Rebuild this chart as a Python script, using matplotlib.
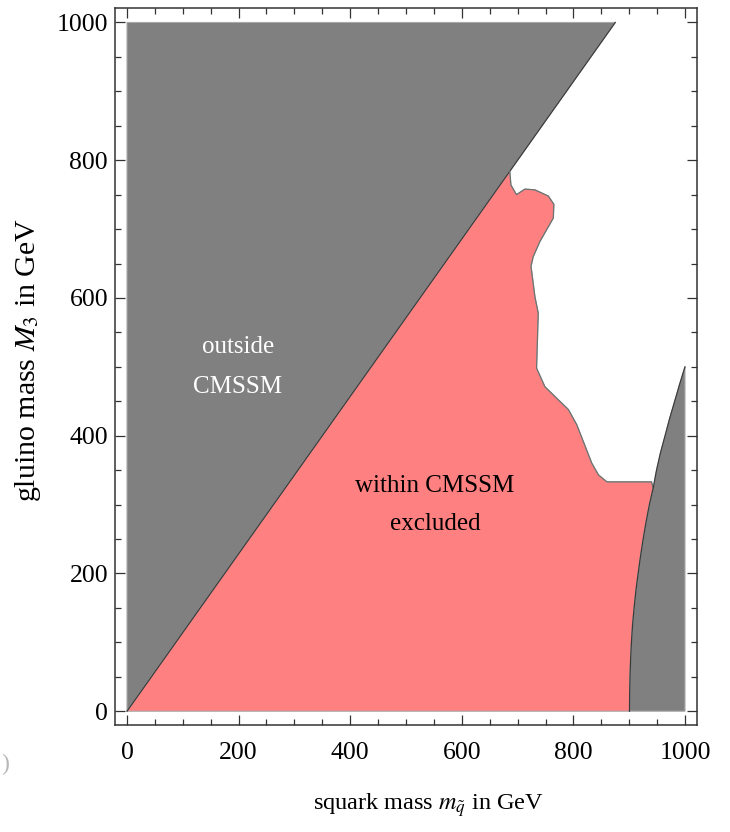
import numpy as np
import matplotlib
matplotlib.use("Agg")
import matplotlib.pyplot as plt
from matplotlib.patches import Polygon
from matplotlib.ticker import MultipleLocator

# ---- data (GeV) ----
# boundary of the "outside CMSSM" wedge
diag_squark = [0, 875]
diag_gluino = [0, 1000]

# upper boundary of the excluded region (from the diagonal going down/right)
edge_squark = [686, 688, 698, 713, 731, 755, 765, 764, 740, 728, 724, 731, 737,
               734, 749, 791, 806, 833, 845, 860, 940, 943]
edge_gluino = [784, 764, 750, 758, 757, 748, 736, 716, 682, 660, 646, 602, 578,
               498, 471, 438, 416, 360, 343, 333, 333, 324]

# boundary of the right-hand gray region
curve_gluino = [0, 25, 50, 75, 100, 125, 150, 175, 200, 225, 250, 275, 300, 324,
                350, 375, 400, 425, 450, 475, 500]
curve_squark = [900.5, 900.8, 901.5, 902.5, 904, 906, 908.8, 912, 916, 920.3, 925,
                930.3, 936.2, 943, 949, 956, 964.3, 972.5, 981.5, 990.5, 1000]

xticks = [0, 200, 400, 600, 800, 1000]
yticks = [0, 200, 400, 600, 800, 1000]

GRAY = "#808080"
RED = "#FF8080"

plt.rcParams["font.family"] = ["Liberation Serif", "DejaVu Serif"]
plt.rcParams["mathtext.fontset"] = "stix"

fig = plt.figure(figsize=(7.30, 8.32), dpi=100)
ax = fig.add_axes([115/730, 1-725/832, (697-115)/730, (725-8)/832])

# left gray wedge
left_poly = [(0, 0), (diag_squark[1], diag_gluino[1]), (0, 1000)]
ax.add_patch(Polygon(left_poly, closed=True, facecolor=GRAY, edgecolor="#aaaaaa", lw=0.8, zorder=1))

# red excluded region
red_pts = [(0, 0)]
red_pts += list(zip(edge_squark, edge_gluino))
cs = np.array(curve_squark); cg = np.array(curve_gluino)
mask = cg < edge_gluino[-1]
red_pts += list(zip(cs[mask][::-1], cg[mask][::-1]))
ax.add_patch(Polygon(red_pts, closed=True, facecolor=RED, edgecolor="#aaaaaa", lw=0.8, zorder=1))

# right gray region
right_pts = list(zip(curve_squark, curve_gluino)) + [(1000, 0)]
ax.add_patch(Polygon(right_pts, closed=True, facecolor=GRAY, edgecolor="#aaaaaa", lw=0.8, zorder=1))

# interior boundaries
ax.plot(diag_squark, diag_gluino, color="#3a3a3a", lw=0.9, zorder=2)
ax.plot(edge_squark, edge_gluino, color="#707070", lw=0.9, zorder=2)
ax.plot(curve_squark, curve_gluino, color="#3a3a3a", lw=0.9, zorder=2)

ax.set_xlim(-21.5, 1021.5)
ax.set_ylim(-20, 1021)
ax.set_xticks(xticks)
ax.set_yticks(yticks)
ax.xaxis.set_minor_locator(MultipleLocator(50))
ax.yaxis.set_minor_locator(MultipleLocator(50))
ax.tick_params(which="both", direction="in", top=True, right=True, color="#333333", width=0.9)
ax.tick_params(which="major", length=7.5)
ax.tick_params(which="minor", length=4.5)
ax.tick_params(axis="x", which="major", pad=12, labelsize=18.5)
ax.tick_params(axis="y", which="major", pad=5, labelsize=18.5)
for s in ax.spines.values():
    s.set_color("#333333")
    s.set_linewidth(1.1)

ax.text(199, 500, "outside\nCMSSM", color="white", fontsize=18, ha="center", va="center",
        linespacing=2.05, zorder=3)
ax.text(552, 299, "within CMSSM\nexcluded", color="black", fontsize=18, ha="center", va="center",
        linespacing=1.95, zorder=3)

fig.text(428/730, 1-805/832, r"squark mass $m_{\tilde{q}}$ in GeV", ha="center", va="center", fontsize=17.5)
fig.text(28/730, 1-360/832, r"gluino mass $M_3$ in GeV", ha="center", va="center", fontsize=21.5, rotation=90)

# stray fragment at the left edge of the original image
fig.text(1/730, 1-764/832, ")", ha="left", va="center", fontsize=17, color="#b8b8b8")

fig.savefig("out.png", dpi=100)
